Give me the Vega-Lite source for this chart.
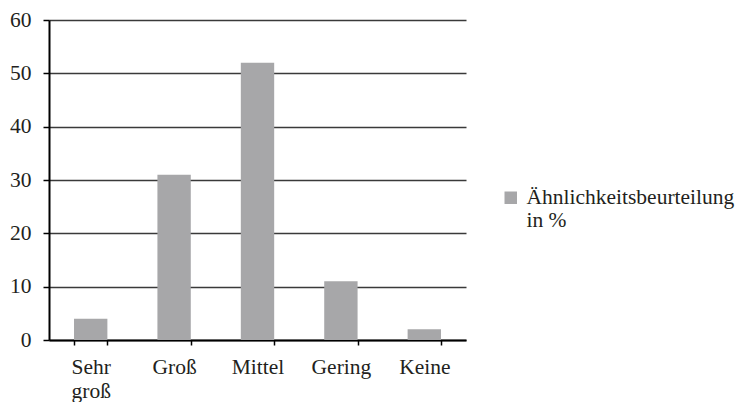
{
  "$schema": "https://vega.github.io/schema/vega-lite/v6.json",
  "autosize": "none",
  "width": 417,
  "height": 320,
  "padding": {"left": 49, "top": 20, "right": 275, "bottom": 62},
  "background": "white",
  "config": {
    "font": "Liberation Serif",
    "view": {"stroke": null}
  },
  "data": {
    "values": [
      {"kategorie": "Sehr groß", "wert": 4},
      {"kategorie": "Groß", "wert": 31},
      {"kategorie": "Mittel", "wert": 52},
      {"kategorie": "Gering", "wert": 11},
      {"kategorie": "Keine", "wert": 2}
    ]
  },
  "mark": {"type": "bar", "fill": "#a7a7a9"},
  "encoding": {
    "x": {
      "field": "kategorie",
      "type": "nominal",
      "sort": null,
      "scale": {"paddingInner": 0.6, "paddingOuter": 0.3},
      "axis": {
        "title": null,
        "labelAngle": 0,
        "labelExpr": "split(datum.label, ' ')",
        "labelFont": "Liberation Serif",
        "labelFontSize": 21.5,
        "labelColor": "#231f20",
        "labelPadding": 11,
        "labelLineHeight": 24,
        "tickBand": "extent",
        "tickSize": 5,
        "tickColor": "#000",
        "tickWidth": 1.5,
        "domainColor": "#000",
        "domainWidth": 2,
        "grid": false
      }
    },
    "y": {
      "field": "wert",
      "type": "quantitative",
      "scale": {"domain": [0, 60], "nice": false},
      "axis": {
        "title": null,
        "values": [0, 10, 20, 30, 40, 50, 60],
        "labelFont": "Liberation Serif",
        "labelFontSize": 21.5,
        "labelColor": "#231f20",
        "labelPadding": 12,
        "tickSize": 6,
        "tickColor": "#000",
        "tickWidth": 1.5,
        "domainColor": "#000",
        "domainWidth": 2,
        "grid": true,
        "gridColor": "#3a3a3a",
        "gridWidth": 1.3
      }
    },
    "color": {
      "datum": "Ähnlichkeitsbeurteilung in %",
      "scale": {"range": ["#a7a7a9"]},
      "legend": {
        "title": null,
        "orient": "none",
        "legendX": 451,
        "legendY": 167,
        "symbolType": "square",
        "symbolSize": 156,
        "symbolStrokeWidth": 0,
        "labelExpr": "['Ähnlichkeitsbeurteilung', 'in %']",
        "labelFont": "Liberation Serif",
        "labelFontSize": 21.5,
        "labelColor": "#231f20",
        "labelOffset": 5,
        "labelLimit": 300,
        "labelLineHeight": 23
      }
    }
  }
}
